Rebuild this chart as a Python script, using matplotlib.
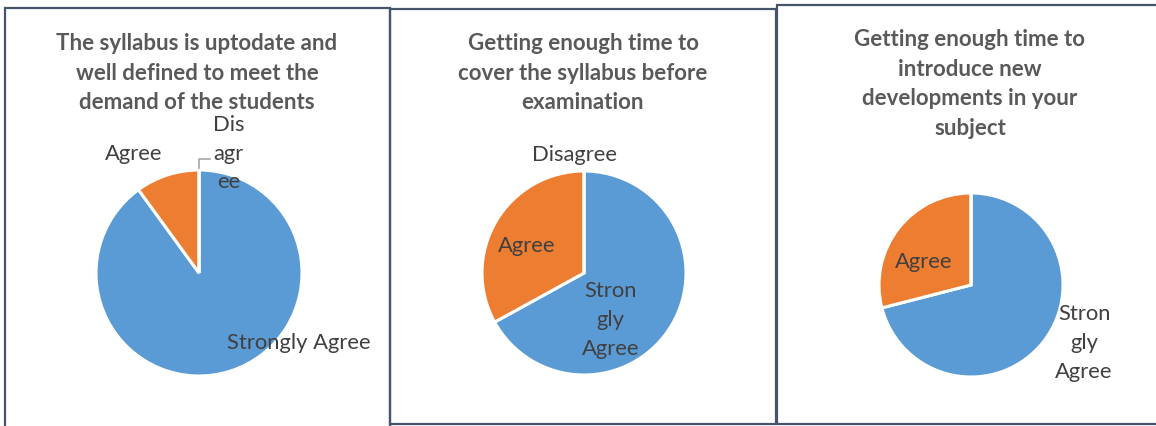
import matplotlib
matplotlib.use("Agg")
import matplotlib.pyplot as plt
from matplotlib.patches import Rectangle
import numpy as np

W, H = 1156, 426

# chart data (shares in percent), order as Excel draws them: clockwise from 12 o'clock
categories = ["Strongly Agree", "Agree", "Disagree"]
values_1 = [90, 10, 0]
values_2 = [67, 33, 0]
values_3 = [71, 29, 0]

titles = [
    "The syllabus is uptodate and\nwell defined to meet the\ndemand of the students",
    "Getting enough time to\ncover the syllabus before\nexamination",
    "Getting enough time to\nintroduce new\ndevelopments in your\nsubject",
]

# label texts as they are wrapped in the picture (None = no label)
labels_1 = ["Strongly Agree", "Agree", "Dis\nagr\nee"]
labels_2 = ["Stron\ngly\nAgree", "Agree", "Disagree"]
labels_3 = ["Stron\ngly\nAgree", "Agree", None]

blue = "#5B9BD5"
orange = "#ED7D31"
grey = "#A5A5A5"
title_col = "#595959"
label_col = "#404040"
border_col = "#44546A"

FONT = "Lato"

# layout in image pixels (y down): pie centre, radius, title centre
pies = [
    dict(vals=values_1, labs=labels_1, cx=199, cy=273, r=103, tx=197, ty=73,
         pos=[(0.97, -0.68), (-0.63, 1.16), (0.29, 1.16)]),
    dict(vals=values_2, labs=labels_2, cx=584, cy=273, r=102, tx=583, ty=73,
         pos=[(0.26, -0.46), (-0.56, 0.26), (-0.09, 1.16)]),
    dict(vals=values_3, labs=labels_3, cx=971, cy=285, r=92, tx=970, ty=84,
         pos=[(1.23, -0.63), (-0.51, 0.25), None]),
]

fig = plt.figure(figsize=(W / 100, H / 100), dpi=100)
ax = fig.add_axes([0, 0, 1, 1])

for p, title in zip(pies, titles):
    cx, cy = p["cx"], H - p["cy"]
    ax.pie(p["vals"], colors=[blue, orange, grey], startangle=90, counterclock=False,
           center=(cx, cy), radius=p["r"],
           wedgeprops=dict(edgecolor="white", linewidth=2.2))
    for lab, pos in zip(p["labs"], p["pos"]):
        if lab is None:
            continue
        ax.text(cx + pos[0] * p["r"], cy + pos[1] * p["r"], lab, ha="center", va="center",
                fontsize=15.8, color=label_col, family=FONT, linespacing=1.55)
    ax.text(p["tx"], H - p["ty"], title, ha="center", va="center", fontsize=16,
            fontweight="bold", color=title_col, family=FONT, linespacing=1.52)

# leader line for the zero "Disagree" slice of the first pie
p = pies[0]
x0, y0 = p["cx"], H - p["cy"] + p["r"]
ax.plot([x0, x0, x0 + 11], [y0 + 2, y0 + 11, y0 + 11], color="#A6A6A6", lw=1.2)

# chart area borders
ax.add_patch(Rectangle((5, -10), 385, H - 8 + 10, fill=False, ec=border_col, lw=1.6))
ax.add_patch(Rectangle((390, 2), 386, H - 9 - 2, fill=False, ec=border_col, lw=1.6))
ax.add_patch(Rectangle((777, 2), 400, H - 4.5 - 2, fill=False, ec=border_col, lw=1.6))

ax.set_xlim(0, W)
ax.set_ylim(0, H)
ax.set_aspect("auto")
ax.axis("off")

fig.savefig("out.png", dpi=100)
